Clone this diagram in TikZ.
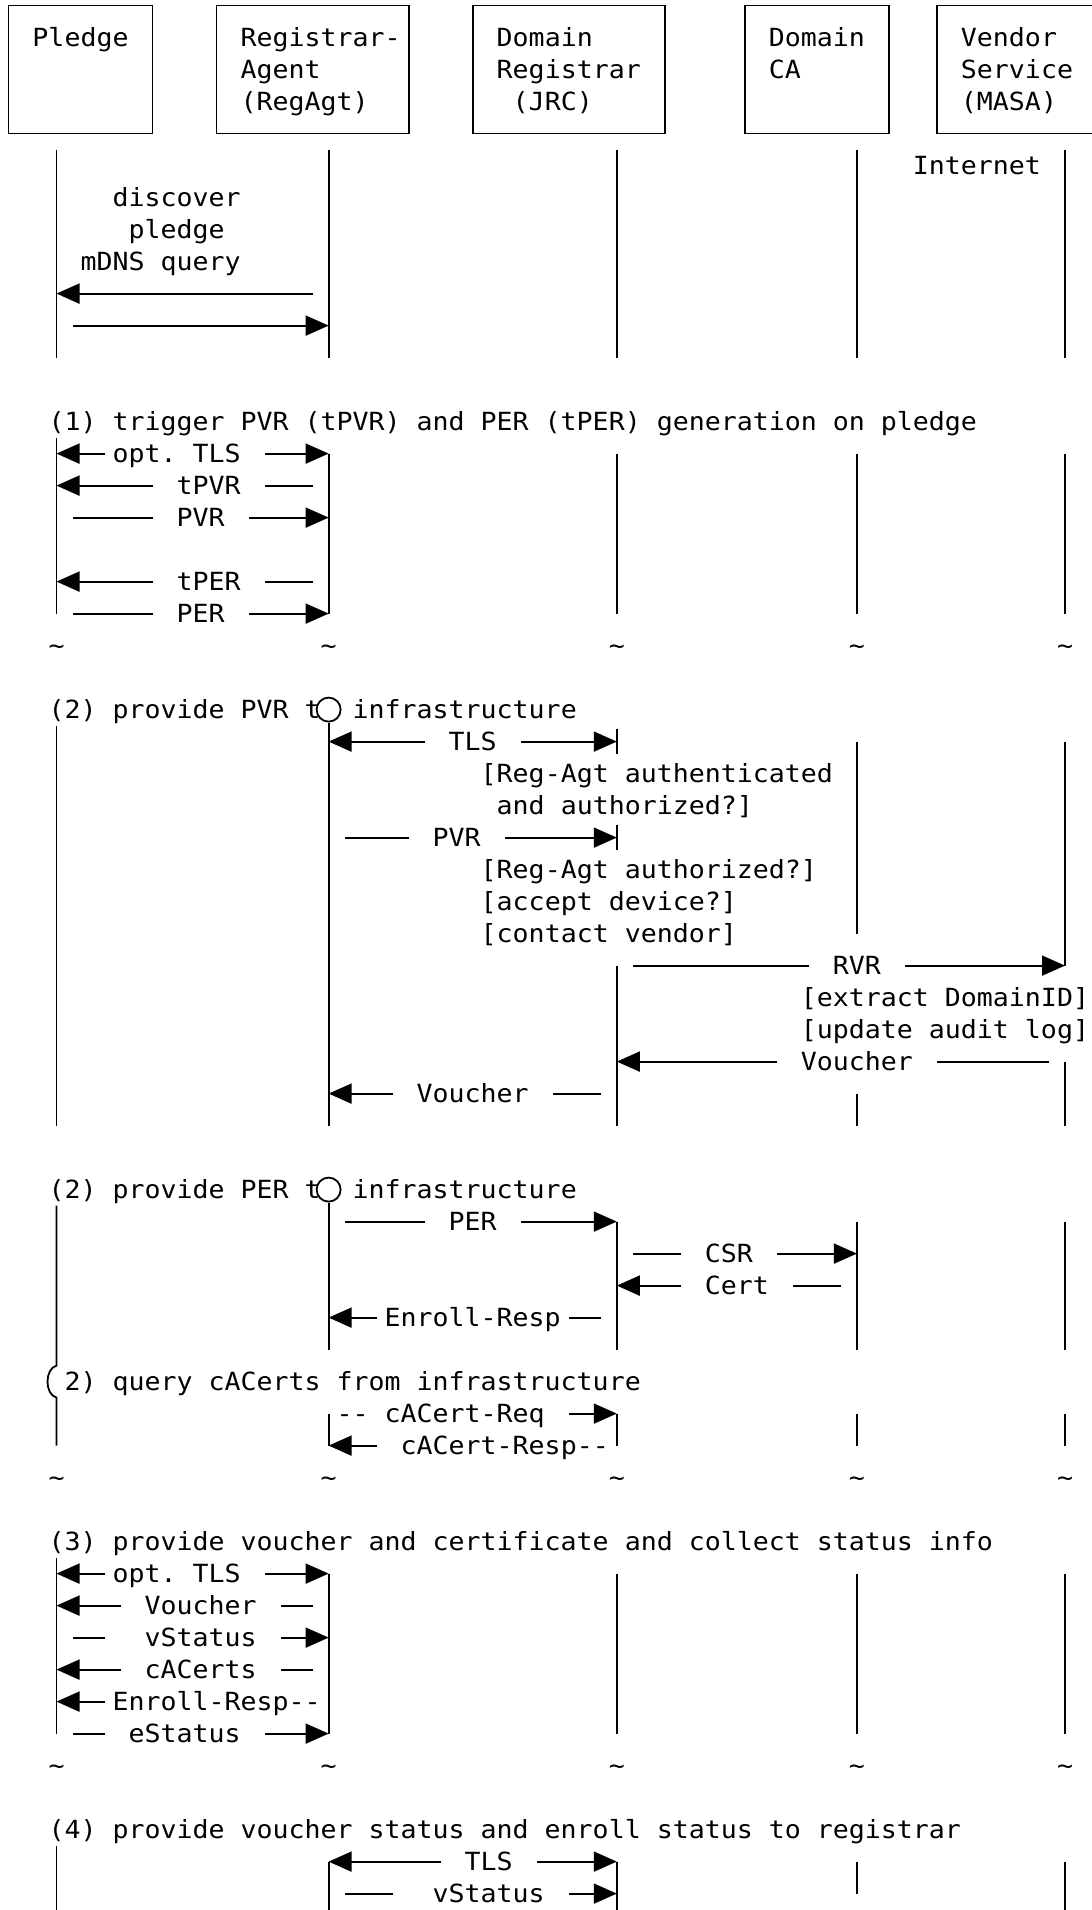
\documentclass[tikz,border=0pt]{standalone}
\usepackage{fontspec}
\usetikzlibrary{arrows.meta}
\newfontfamily\dmono{DejaVu Sans Mono}[FakeStretch=1.0636]
\newcommand\monosetup{\dmono\fontsize{25pt}{30pt}\selectfont\fontdimen2\font=16.008pt\fontdimen3\font=0pt\fontdimen4\font=0pt\fontdimen7\font=0pt}
\newcommand\T[4]{\node[txt] (#3) at ({#1-0.5},{#2+0.272}) {#4};}
\tikzset{
  txt/.style={font=\monosetup, anchor=base west, inner sep=0pt, outer sep=0pt},
  ln/.style={line width=1.8pt},
  life/.style={ln},
  arr/.style={ln, -{Triangle[length=23pt,width=20pt]}},
  actor/.style={draw, line width=1.8pt, rectangle, inner sep=0pt, minimum height=128pt},
  ring/.style={draw, line width=1.8pt, circle, inner sep=0pt, minimum size=24pt},
}
\begin{document}
\begin{tikzpicture}[x=16.008pt, y=-32pt]
\useasboundingbox (-0.5297,-0.175) rectangle (67.625,59.5125);
% lifeline columns
\coordinate (P) at (3,0);
\coordinate (R) at (20,0);
\coordinate (J) at (38,0);
\coordinate (C) at (53,0);
\coordinate (M) at (66,0);
% actor boxes
\node[actor, minimum width=144.072pt] (pledge) at (4.5,2) {};
\node[actor, minimum width=192.096pt] (regagt) at (19,2) {};
\node[actor, minimum width=192.096pt] (jrc) at (35,2) {};
\node[actor, minimum width=144.072pt] (domca) at (50.5,2) {};
\node[actor, minimum width=160.08pt] (masa) at (63,2) {};
\T{2}{1}{hp}{Pledge}
\T{15}{1}{hr1}{Registrar-}
\T{15}{2}{hr2}{Agent}
\T{15}{3}{hr3}{(RegAgt)}
\T{31}{1}{hj1}{Domain}
\T{31}{2}{hj2}{Registrar}
\T{32}{3}{hj3}{(JRC)}
\T{48}{1}{hc1}{Domain}
\T{48}{2}{hc2}{CA}
\T{60}{1}{hm1}{Vendor}
\T{60}{2}{hm2}{Service}
\T{60}{3}{hm3}{(MASA)}
% ---- section 0
\foreach \c in {P,R,J,C,M} \draw[life] (\c |- 0,4.5) -- (\c |- 0,11);
\T{57}{5}{inet}{Internet}
\T{7}{6}{disc}{discover}
\T{8}{7}{pldg}{pledge}
\T{5}{8}{mdns}{mDNS query}
\draw[arr] (19,9) -- (P |- 0,9);
\draw[arr] (4,10) -- (R |- 0,10);
% ---- section 1
\T{3}{13}{s1}{(1) trigger PVR (tPVR) and PER (tPER) generation on pledge}
\draw[life] (P |- 0,13.5) -- (P |- 0,19);
\foreach \c in {R,J,C,M} \draw[life] (\c |- 0,14) -- (\c |- 0,19);
\draw[arr] (6,14) -- (P |- 0,14); \T{7}{14}{otlsa}{opt. TLS} \draw[arr] (16,14) -- (R |- 0,14);
\draw[arr] (9,15) -- (P |- 0,15); \T{11}{15}{tpvr}{tPVR} \draw[ln] (16,15) -- (19,15);
\draw[ln] (4,16) -- (9,16); \T{11}{16}{pvra}{PVR} \draw[arr] (15,16) -- (R |- 0,16);
\draw[arr] (9,18) -- (P |- 0,18); \T{11}{18}{tper}{tPER} \draw[ln] (16,18) -- (19,18);
\draw[ln] (4,19) -- (9,19); \T{11}{19}{pera}{PER} \draw[arr] (15,19) -- (R |- 0,19);
\foreach \c/\n in {3/a,20/b,38/c,53/d,66/e} {\T{\c}{20}{tila\n}{\string~}}
% ---- section 2
\T{3}{22}{s2a}{(2) provide PVR t}
\node[ring] (oa) at (R |- 0,22) {};
\T{22}{22}{s2b}{infrastructure}
\draw[life] (P |- 0,22.5) -- (P |- 0,35);
\draw[life] (oa.south) -- (R |- 0,35);
\draw[life] (J |- 0,22.62) -- (J |- 0,23.38);
\draw[life] (J |- 0,25.62) -- (J |- 0,26.38);
\draw[life] (J |- 0,30) -- (J |- 0,35);
\draw[life] (C |- 0,23) -- (C |- 0,29);
\draw[life] (C |- 0,34) -- (C |- 0,35);
\draw[life] (M |- 0,23) -- (M |- 0,30);
\draw[life] (M |- 0,33) -- (M |- 0,35);
\draw[arr] (26,23) -- (R |- 0,23); \T{28}{23}{tlsa}{TLS} \draw[arr] (32,23) -- (J |- 0,23);
\T{30}{24}{raa}{[Reg-Agt authenticated}
\T{31}{25}{rab}{and authorized?]}
\draw[ln] (21,26) -- (25,26); \T{27}{26}{pvrb}{PVR} \draw[arr] (31,26) -- (J |- 0,26);
\T{30}{27}{rac}{[Reg-Agt authorized?]}
\T{30}{28}{acc}{[accept device?]}
\T{30}{29}{cven}{[contact vendor]}
\draw[ln] (39,30) -- (50,30); \T{52}{30}{rvr}{RVR} \draw[arr] (56,30) -- (M |- 0,30);
\T{50}{31}{extr}{[extract DomainID]}
\T{50}{32}{upd}{[update audit log]}
\draw[arr] (48,33) -- (J |- 0,33); \T{50}{33}{vcha}{Voucher} \draw[ln] (58,33) -- (65,33);
\draw[arr] (24,34) -- (R |- 0,34); \T{26}{34}{vchb}{Voucher} \draw[ln] (34,34) -- (37,34);
% ---- section 3
\T{3}{37}{s3a}{(2) provide PER t}
\node[ring] (ob) at (R |- 0,37) {};
\T{22}{37}{s3b}{infrastructure}
\draw[life] (P |- 0,37.5) -- (P |- 0,42.5) .. controls (2.25,42.6) and (2.25,43.4) .. (P |- 0,43.5) -- (P |- 0,45);
\draw[life] (ob.south) -- (R |- 0,42);
\draw[life] (R |- 0,44) -- (R |- 0,45);
\foreach \c in {J,C,M} {\draw[life] (\c |- 0,38) -- (\c |- 0,42); \draw[life] (\c |- 0,44) -- (\c |- 0,45);}
\draw[ln] (21,38) -- (26,38); \T{28}{38}{perb}{PER} \draw[arr] (32,38) -- (J |- 0,38);
\draw[ln] (39,39) -- (42,39); \T{44}{39}{csr}{CSR} \draw[arr] (48,39) -- (C |- 0,39);
\draw[arr] (42,40) -- (J |- 0,40); \T{44}{40}{cert}{Cert} \draw[ln] (49,40) -- (52,40);
\draw[arr] (23,41) -- (R |- 0,41); \T{24}{41}{era}{Enroll-Resp} \draw[ln] (35,41) -- (37,41);
\T{4}{43}{s3c}{2) query cACerts from infrastructure}
\T{21}{44}{careq}{-{}- cACert-Req} \draw[arr] (35,44) -- (J |- 0,44);
\draw[arr] (23,45) -- (R |- 0,45); \T{25}{45}{caresp}{cACert-Resp-{}-}
\foreach \c/\n in {3/a,20/b,38/c,53/d,66/e} {\T{\c}{46}{tilb\n}{\string~}}
% ---- section 4
\T{3}{48}{s4}{(3) provide voucher and certificate and collect status info}
\draw[life] (P |- 0,48.5) -- (P |- 0,54);
\foreach \c in {R,J,C,M} \draw[life] (\c |- 0,49) -- (\c |- 0,54);
\draw[arr] (6,49) -- (P |- 0,49); \T{7}{49}{otlsb}{opt. TLS} \draw[arr] (16,49) -- (R |- 0,49);
\draw[arr] (7,50) -- (P |- 0,50); \T{9}{50}{vchc}{Voucher} \draw[ln] (17,50) -- (19,50);
\draw[ln] (4,51) -- (6,51); \T{9}{51}{vsta}{vStatus} \draw[arr] (17,51) -- (R |- 0,51);
\draw[arr] (7,52) -- (P |- 0,52); \T{9}{52}{cacs}{cACerts} \draw[ln] (17,52) -- (19,52);
\draw[arr] (6,53) -- (P |- 0,53); \T{7}{53}{erb}{Enroll-Resp-{}-}
\draw[ln] (4,54) -- (6,54); \T{8}{54}{est}{eStatus} \draw[arr] (16,54) -- (R |- 0,54);
\foreach \c/\n in {3/a,20/b,38/c,53/d,66/e} {\T{\c}{55}{tilc\n}{\string~}}
% ---- section 5
\T{3}{57}{s5}{(4) provide voucher status and enroll status to registrar}
\draw[life] (P |- 0,57.5) -- (P |- 0,59.6);
\foreach \c in {R,J,M} \draw[life] (\c |- 0,58) -- (\c |- 0,59.6);
\draw[life] (C |- 0,58) -- (C |- 0,59);
\draw[arr] (27,58) -- (R |- 0,58); \T{29}{58}{tlsb}{TLS} \draw[arr] (33,58) -- (J |- 0,58);
\draw[ln] (21,59) -- (24,59); \T{27}{59}{vstb}{vStatus} \draw[arr] (35,59) -- (J |- 0,59);
\end{tikzpicture}
\end{document}
